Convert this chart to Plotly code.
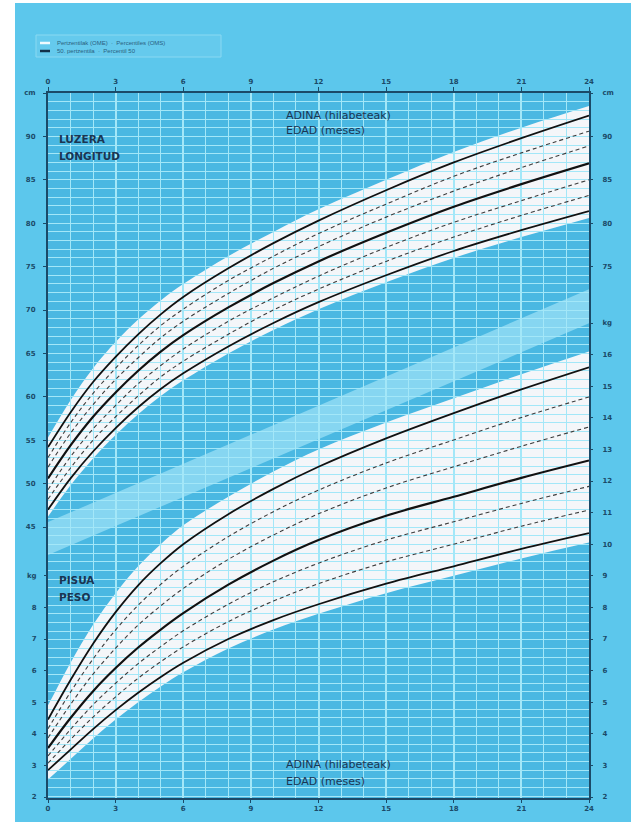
import plotly.graph_objects as go

# ---------------- data ----------------
months = [0, 1, 2, 3, 4, 5, 6, 8, 10, 12, 15, 18, 21, 24]

len_p3  = [47.0, 50.6, 53.7, 56.4, 58.8, 60.9, 62.7, 65.8, 68.5, 70.9, 74.0, 76.8, 79.2, 81.4]
len_p10 = [48.2, 51.8, 55.0, 57.7, 60.1, 62.3, 64.1, 67.2, 70.0, 72.4, 75.6, 78.4, 80.9, 83.2]
len_p25 = [49.3, 53.1, 56.3, 59.0, 61.5, 63.6, 65.5, 68.7, 71.4, 73.9, 77.2, 80.1, 82.6, 85.0]
len_p50 = [50.6, 54.4, 57.7, 60.5, 63.0, 65.2, 67.1, 70.3, 73.1, 75.6, 78.9, 81.9, 84.5, 86.9]
len_p75 = [51.9, 55.8, 59.1, 62.0, 64.5, 66.8, 68.7, 71.9, 74.8, 77.3, 80.7, 83.7, 86.4, 88.9]
len_p90 = [53.0, 57.0, 60.4, 63.3, 65.9, 68.2, 70.1, 73.4, 76.2, 78.8, 82.2, 85.4, 88.1, 90.6]
len_p97 = [54.2, 58.2, 61.7, 64.6, 67.2, 69.5, 71.5, 74.8, 77.7, 80.3, 83.8, 87.0, 89.8, 92.4]
len_band_hi = [55.3, 59.6, 63.3, 66.3, 68.9, 71.1, 73.0, 76.2, 79.0, 81.6, 85.0, 88.2, 91.0, 93.5]
len_band_lo = [46.2, 49.8, 52.9, 55.6, 58.0, 60.1, 61.9, 65.0, 67.7, 70.1, 73.2, 76.0, 78.4, 80.6]

wt_p3  = [2.85, 3.50, 4.15, 4.75, 5.30, 5.80, 6.25, 7.00, 7.60, 8.10, 8.75, 9.30, 9.85, 10.35]
wt_p10 = [3.07, 3.82, 4.53, 5.17, 5.76, 6.28, 6.75, 7.55, 8.20, 8.75, 9.44, 10.00, 10.57, 11.08]
wt_p25 = [3.30, 4.14, 4.92, 5.60, 6.22, 6.76, 7.26, 8.10, 8.81, 9.40, 10.13, 10.71, 11.29, 11.83]
wt_p50 = [3.55, 4.50, 5.35, 6.08, 6.73, 7.30, 7.82, 8.72, 9.48, 10.13, 10.90, 11.50, 12.10, 12.65]
wt_p75 = [3.87, 4.93, 5.89, 6.71, 7.44, 8.05, 8.60, 9.52, 10.29, 10.96, 11.78, 12.45, 13.10, 13.71]
wt_p90 = [4.16, 5.32, 6.37, 7.29, 8.07, 8.73, 9.30, 10.24, 11.03, 11.71, 12.57, 13.30, 14.01, 14.66]
wt_p97 = [4.45, 5.70, 6.85, 7.85, 8.70, 9.40, 10.00, 10.95, 11.75, 12.45, 13.35, 14.15, 14.90, 15.60]
wt_band_hi = [4.90, 6.25, 7.45, 8.45, 9.30, 10.00, 10.60, 11.50, 12.30, 13.00, 13.85, 14.62, 15.38, 16.10]
wt_band_lo = [2.55, 3.20, 3.85, 4.45, 5.00, 5.50, 5.95, 6.70, 7.30, 7.80, 8.45, 9.00, 9.55, 10.05]

sep_months = [0, 24]
sep_lo = [9.66, 16.99]
sep_hi = [10.70, 18.07]

x_ticks = [0, 3, 6, 9, 12, 15, 18, 21, 24]
len_left_ticks = [45, 50, 55, 60, 65, 70, 75, 80, 85, 90, 95]
len_left_text = ["45", "50", "55", "60", "65", "70", "75", "80", "85", "90", "cm"]
wt_left_ticks = [2, 3, 4, 5, 6, 7, 8, 9]
wt_left_text = ["2", "3", "4", "5", "6", "7", "8", "kg"]
len_right_ticks = [75, 80, 85, 90, 95]
len_right_text = ["75", "80", "85", "90", "cm"]
wt_right_ticks = [2, 3, 4, 5, 6, 7, 8, 9, 10, 11, 12, 13, 14, 15, 16, 17]
wt_right_text = ["2", "3", "4", "5", "6", "7", "8", "9", "10", "11", "12", "13", "14", "15", "16", "kg"]

# ---------------- layout geometry ----------------
W, H = 631, 829
L, R, T, B = 48, 42, 93, 31
PW, PH = W - L - R, H - T - B
LEN_TOP, LEN_PX = 95.0, 8.68
WT_BOT_PX, WT_PX = 797.0, 31.6
len_range = [LEN_TOP - PH / LEN_PX, LEN_TOP]
wt_lo = 2.0 - ((H - B) - WT_BOT_PX) / WT_PX
wt_range = [wt_lo, wt_lo + PH / WT_PX]

def px(xp):
    return (xp - L) / PW

def py(yp):
    return ((H - B) - yp) / PH

def smooth(xs, ys, start="M"):
    n = len(xs)
    d = f"{start}{xs[0]},{ys[0]}"
    for i in range(n - 1):
        i0 = max(i - 1, 0); i3 = min(i + 2, n - 1)
        h = xs[i + 1] - xs[i]
        k1 = h / (3 * (xs[i + 1] - xs[i0]))
        k2 = h / (3 * (xs[i3] - xs[i]))
        c1 = (xs[i] + (xs[i + 1] - xs[i0]) * k1, ys[i] + (ys[i + 1] - ys[i0]) * k1)
        c2 = (xs[i + 1] - (xs[i3] - xs[i]) * k2, ys[i + 1] - (ys[i3] - ys[i]) * k2)
        d += f" C{c1[0]:.4f},{c1[1]:.4f} {c2[0]:.4f},{c2[1]:.4f} {xs[i+1]},{ys[i+1]}"
    return d

def band(xs, hi, lo):
    return smooth(xs, hi) + " " + smooth(xs[::-1], lo[::-1], start="L") + " Z"

BG_PAPER = "#5CC7EC"
BG_PLOT = "#4AB8E2"
GRID = "#A3E7F8"
INK = "#1B4A68"
TXT = "#1A3552"
FONT = "DejaVu Sans"

fig = go.Figure()

def curve(xs, ys, yaxis, solid, width):
    fig.add_trace(go.Scatter(
        x=xs, y=ys, xaxis="x", yaxis=yaxis, mode="lines",
        line=dict(color="#111111" if solid else "#3c3c3c", width=width,
                  dash="solid" if solid else "4px,3px", shape="spline", smoothing=1.0),
        showlegend=False, hoverinfo="skip"))

for ys, solid, w in [(len_p3, True, 1.8), (len_p10, False, 1.1), (len_p25, False, 1.1),
                     (len_p50, True, 2.2), (len_p75, False, 1.1), (len_p90, False, 1.1),
                     (len_p97, True, 1.8)]:
    curve(months, ys, "y", solid, w)
for ys, solid, w in [(wt_p3, True, 1.8), (wt_p10, False, 1.1), (wt_p25, False, 1.1),
                     (wt_p50, True, 2.2), (wt_p75, False, 1.1), (wt_p90, False, 1.1),
                     (wt_p97, True, 1.8)]:
    curve(months, ys, "y2", solid, w)

# dummy traces so that the extra axes are drawn
for xa, ya in [("x2", "y"), ("x", "y3"), ("x", "y4")]:
    fig.add_trace(go.Scatter(x=[None], y=[None], xaxis=xa, yaxis=ya, mode="lines",
                             showlegend=False, hoverinfo="skip"))

shapes = [
    dict(type="rect", xref="paper", yref="paper", layer="below",
         x0=px(15), x1=px(W + 5), y0=py(822), y1=py(3),
         fillcolor=BG_PAPER, line=dict(width=0)),
    dict(type="rect", xref="paper", yref="paper", layer="below",
         x0=0, x1=1, y0=0, y1=1, fillcolor=BG_PLOT, line=dict(width=0)),
    dict(type="path", xref="x", yref="y2", layer="below",
         path=f"M{sep_months[0]},{sep_lo[0]} L{sep_months[1]},{sep_lo[1]} "
              f"L{sep_months[1]},{sep_hi[1]} L{sep_months[0]},{sep_hi[0]} Z",
         fillcolor="#86D6F1", line=dict(width=0)),
    dict(type="path", xref="x", yref="y", layer="below",
         path=band(months, len_band_hi, len_band_lo),
         fillcolor="#F4F6F9", line=dict(width=0)),
    dict(type="path", xref="x", yref="y2", layer="below",
         path=band(months, wt_band_hi, wt_band_lo),
         fillcolor="#F4F6F9", line=dict(width=0)),
    # legend box
    dict(type="rect", xref="paper", yref="paper", layer="above",
         x0=px(36), x1=px(221), y0=py(57), y1=py(35),
         fillcolor="rgba(255,255,255,0.06)", line=dict(color="#8AD9F2", width=1)),
    dict(type="line", xref="paper", yref="paper", layer="above",
         x0=px(40), x1=px(50), y0=py(43), y1=py(43), line=dict(color="#EFFAFF", width=2.5)),
    dict(type="line", xref="paper", yref="paper", layer="above",
         x0=px(40), x1=px(50), y0=py(51), y1=py(51), line=dict(color="#12314A", width=2.5)),
]

def ann(text, xpx, ypx, size, color=TXT, family=FONT):
    return dict(text=text, x=px(xpx), y=py(ypx), xref="paper", yref="paper",
                xanchor="left", yanchor="middle", showarrow=False,
                font=dict(family=family, size=size, color=color))

annotations = [
    ann("<b>LUZERA</b>", 57, 139, 10.5),
    ann("<b>LONGITUD</b>", 57, 156, 10.5),
    ann("ADINA (hilabeteak)", 284, 115, 11),
    ann("EDAD (meses)", 284, 131, 11),
    ann("ADINA (hilabeteak)", 284, 764, 11),
    ann("EDAD (meses)", 284, 781, 11),
    ann("<b>PISUA</b>", 57, 580, 10.5),
    ann("<b>PESO</b>", 57, 597, 10.5),
    ann("Pertzentilak (OME)  ·  Percentiles (OMS)", 55, 43, 6, "#2A5F80", "Liberation Sans"),
    ann("50. pertzentila  ·  Percentil 50", 55, 51, 6, "#2A5F80", "Liberation Sans"),
]

tickfont = dict(family=FONT, size=7, color=INK, weight="bold")

fig.update_layout(
    width=W, height=H,
    margin=dict(l=L, r=R, t=T, b=B, pad=0),
    paper_bgcolor="white", plot_bgcolor="rgba(0,0,0,0)",
    showlegend=False,
    shapes=shapes, annotations=annotations,
    xaxis=dict(range=[0, 24], tickmode="array", tickvals=x_ticks, side="bottom",
               showgrid=True, gridcolor=GRID, gridwidth=1.6,
               minor=dict(tickmode="linear", tick0=0, dtick=1, showgrid=True,
                          gridcolor=GRID, gridwidth=0.9),
               showline=True, linecolor=INK, linewidth=2, mirror=True,
               ticks="outside", ticklen=3, tickcolor=INK, tickfont=tickfont,
               zeroline=False, fixedrange=True),
    xaxis2=dict(range=[0, 24], overlaying="x", anchor="y", side="top",
                tickmode="array", tickvals=x_ticks, showgrid=False,
                ticks="outside", ticklen=5, tickcolor=INK, tickfont=tickfont,
                showline=False, zeroline=False),
    yaxis=dict(range=len_range, tickmode="array", tickvals=len_left_ticks,
               ticktext=len_left_text, side="left",
               showgrid=True, gridcolor=GRID, gridwidth=1.4,
               minor=dict(tickmode="linear", tick0=0, dtick=1, showgrid=True,
                          gridcolor=GRID, gridwidth=0.8),
               showline=True, linecolor=INK, linewidth=2, mirror=True,
               ticks="outside", ticklen=3, tickcolor=INK, tickfont=tickfont,
               ticklabelstandoff=6, zeroline=False),
    yaxis2=dict(range=wt_range, overlaying="y", anchor="x", side="left",
                tickmode="array", tickvals=wt_left_ticks, ticktext=wt_left_text,
                showgrid=False, showline=False, zeroline=False,
                ticks="outside", ticklen=3, tickcolor=INK, tickfont=tickfont,
                ticklabelstandoff=6),
    yaxis3=dict(range=len_range, overlaying="y", anchor="x", side="right",
                tickmode="array", tickvals=len_right_ticks, ticktext=len_right_text,
                showgrid=False, showline=False, zeroline=False,
                ticks="outside", ticklen=3, tickcolor=INK, tickfont=tickfont,
                ticklabelstandoff=8),
    yaxis4=dict(range=wt_range, overlaying="y", anchor="x", side="right",
                tickmode="array", tickvals=wt_right_ticks, ticktext=wt_right_text,
                showgrid=False, showline=False, zeroline=False,
                ticks="outside", ticklen=3, tickcolor=INK, tickfont=tickfont,
                ticklabelstandoff=8),
)

fig.write_html("out.html", config={"displayModeBar": False},
               post_script="document.body.style.margin='0px';document.body.style.padding='0px';")
